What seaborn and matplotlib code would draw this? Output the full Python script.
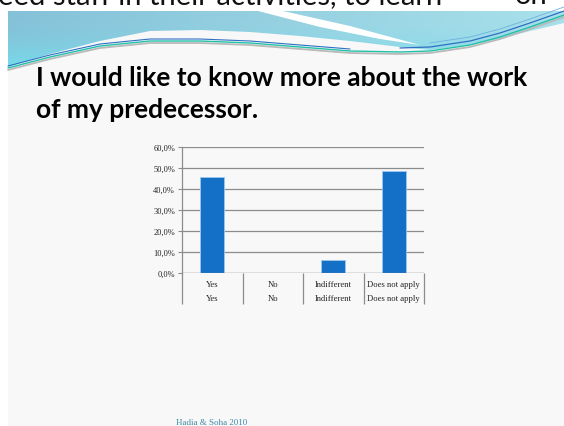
import numpy as np
import pandas as pd
import matplotlib
matplotlib.use("Agg")
import matplotlib.pyplot as plt
from matplotlib.path import Path
from matplotlib.patches import PathPatch
from matplotlib.ticker import FuncFormatter
import seaborn as sns

# Survey answers
categories = ["Yes", "No", "Indifferent", "Does not apply"]
shares = [45.5, 0.0, 6.1, 48.5]
y_ticks = [0, 10, 20, 30, 40, 50, 60]

title_lines = ["I would like to know more about the work", "of my predecessor."]
header_parts = ["eed staff in their activities, to learn", "on"]
footer_text = "Hadia & Soha 2010"

sns.set_theme(style="white")

W, H = 564, 427
fig = plt.figure(figsize=(W / 100, H / 100), dpi=100)
fig.patch.set_facecolor("white")

# Slide canvas in pixel units (origin top-left)
bg = fig.add_axes([0, 0, 1, 1])
bg.set_xlim(0, W)
bg.set_ylim(H, 0)
bg.axis("off")
bg.add_patch(plt.Rectangle((8, 12), W - 8, H - 12, color="#f8f8f8", lw=0, zorder=1))

# Header text of the previous slide, partly hidden by the band
bg.text(-2, 4, header_parts[0], fontsize=21, family="Lato", color="#111111",
        va="baseline", ha="left", zorder=0)
bg.text(515, 4, header_parts[1], fontsize=21, family="Lato", color="#111111",
        va="baseline", ha="left", zorder=0)


def poly_patch(xs, ys, **kw):
    verts = list(zip(xs, ys)) + [(xs[0], ys[0])]
    codes = [Path.MOVETO] + [Path.LINETO] * (len(verts) - 2) + [Path.CLOSEPOLY]
    return PathPatch(Path(verts, codes), **kw)


# Decorative wave band: gradient clipped to the band outline
bx = np.array([8, 50, 100, 150, 200, 250, 300, 350, 400, 430, 470, 500, 530, 564])
by = np.array([68, 55, 42, 32, 31, 33, 37, 42, 48, 51, 46, 40, 32, 24])
band = poly_patch(np.r_[bx, 564, 8], np.r_[by, 12, 12], facecolor="none",
                  edgecolor="none", zorder=2)
bg.add_patch(band)
gx = np.linspace(0, 1, 256)
gy = np.linspace(0, 1, 64)[:, None]
left_c = np.array([0.52, 0.76, 0.85])
right_c = np.array([0.66, 0.88, 0.92])
cyan_c = np.array([0.45, 0.88, 0.93])
horiz = left_c[None, None, :] * (1 - gx[None, :, None]) + right_c[None, None, :] * gx[None, :, None]
vfac = (gy ** 2.2)[:, :, None]
img = horiz * (1 - vfac) + cyan_c[None, None, :] * vfac
im = bg.imshow(img, extent=(8, 564, 72, 12), aspect="auto", zorder=2,
               interpolation="bilinear")
im.set_clip_path(band)

# White streak sweeping down from the top edge
sx_top = np.array([283, 350, 420])
sy_top = np.array([12, 27, 46])
sx_bot = np.array([420, 380, 320, 258])
sy_bot = np.array([46, 40, 28, 12])
bg.add_patch(poly_patch(np.r_[sx_top, sx_bot], np.r_[sy_top, sy_bot],
                        facecolor="white", edgecolor="none", zorder=3))

# Thin lines along the wave
lx = np.array([8, 50, 100, 150, 200, 250, 300, 350, 400, 430, 470, 500, 530, 564])
ly = np.array([69, 58, 47, 42, 42, 44, 48, 52, 53, 52, 46, 38, 28, 16])
bg.plot(lx, ly + 2, color="#b9b9b9", lw=1.3, zorder=4)
bg.plot(lx, ly, color="#22c2a8", lw=1.0, zorder=4)
bg.plot(lx[:8], ly[:8] - 2, color="#2f6fc4", lw=0.8, zorder=4)
bg.plot(lx[8:], ly[8:] - 4, color="#2f6fc4", lw=0.9, zorder=4)
bg.plot(lx[9:], ly[9:] - 8, color="#6fb0e0", lw=0.6, zorder=4)

# Title
bg.text(36, 86, title_lines[0], fontsize=19, family="Lato", weight="bold",
        color="black", va="baseline", zorder=5)
bg.text(36, 118, title_lines[1], fontsize=19, family="Lato", weight="bold",
        color="black", va="baseline", zorder=5)

# Footer
bg.text(176, 425, footer_text, fontsize=6.5, family="Liberation Serif",
        color="#3f8aa6", va="baseline", zorder=5)

# Bar chart
ax = fig.add_axes([182 / W, 1 - 274 / H, 242 / W, 126 / H])
df = pd.DataFrame({"answer": categories, "share": shares})
sns.barplot(data=df, x="answer", y="share", color="#146fc6", width=0.4,
            edgecolor="#9cc8ee", linewidth=0.6, saturation=1, ax=ax)
ax.set_facecolor("none")
ax.set_ylim(y_ticks[0], y_ticks[-1])
ax.set_xlim(-0.5, len(categories) - 0.5)
ax.set_yticks(y_ticks)
ax.yaxis.set_major_formatter(FuncFormatter(lambda v, p: f"{v:.1f}%".replace(".", ",")))
ax.grid(axis="y", color="#8c8c8c", lw=0.9)
ax.set_axisbelow(True)
for s in ["top", "right", "bottom"]:
    ax.spines[s].set_visible(False)
ax.spines["left"].set_color("#8c8c8c")
ax.spines["left"].set_linewidth(0.9)
ax.axhline(0, color="#8c8c8c", lw=0.9)
ax.tick_params(axis="y", left=True, length=3, width=0.8, color="#8c8c8c",
               labelsize=6, pad=2, labelcolor="#222222")
for t in ax.get_yticklabels():
    t.set_family("Liberation Serif")
ax.set_xlabel("")
ax.set_ylabel("")

# Two-row category table below the axis
ax.set_xticks([])
xt = ax.get_xaxis_transform()
for i, c in enumerate(categories):
    for yy in (-11 / 126, -25 / 126):
        ax.text(i, yy, c, transform=xt, ha="center", va="center", fontsize=6.2,
                family="Liberation Serif", color="#222222", clip_on=False)
bounds = np.arange(len(categories) + 1) - 0.5
ax.vlines(bounds, 0, -31 / 126, transform=xt, color="#8c8c8c", lw=0.9, clip_on=False)

fig.savefig("out.png", dpi=100)
